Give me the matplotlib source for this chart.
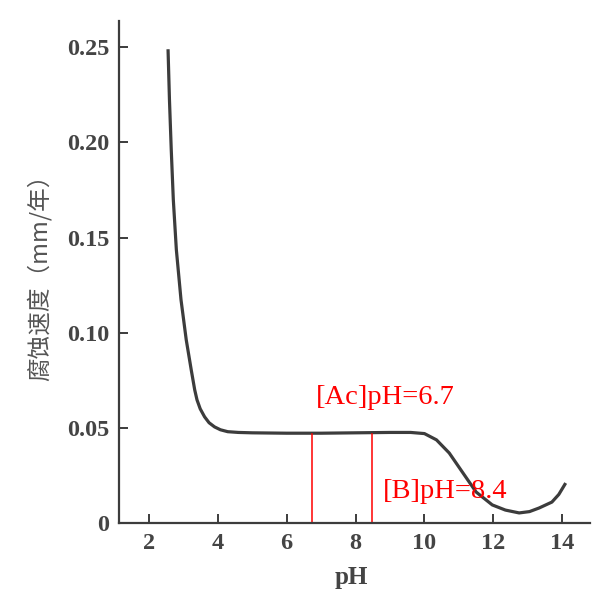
import matplotlib
matplotlib.use('Agg')
import matplotlib.pyplot as plt

# Corrosion rate vs pH
ph = [2.559, 2.600, 2.652, 2.712, 2.800, 2.935, 3.087, 3.232, 3.333, 3.400,
      3.493, 3.62, 3.75, 3.91, 4.08, 4.29, 4.60, 5.0, 6.0, 7.0, 8.0, 9.0,
      9.6, 10.0, 10.35, 10.72, 11.1, 11.5, 11.97, 12.35, 12.75, 13.05,
      13.33, 13.7, 13.9, 14.1]
rate = [0.249, 0.2226, 0.1963, 0.170, 0.1437, 0.1174, 0.0963, 0.0805, 0.070,
        0.0647, 0.060, 0.0558, 0.0527, 0.0505, 0.049, 0.048, 0.0476, 0.0474,
        0.0472, 0.0472, 0.0474, 0.0476, 0.0476, 0.047, 0.0437, 0.0368,
        0.0268, 0.0163, 0.0095, 0.0068, 0.0053, 0.0060, 0.0079, 0.011,
        0.015, 0.021]

# red markers
mark_ph = [6.75, 8.47]
mark_top = 0.047
mark_labels = ['[Ac]pH=6.7', '[B]pH=8.4']
mark_label_pos = [(6.85, 0.066), (8.78, 0.0165)]

xticks = [2, 4, 6, 8, 10, 12, 14]
yticks = [0, 0.05, 0.10, 0.15, 0.20, 0.25]
ytick_labels = ['0', '0.05', '0.10', '0.15', '0.20', '0.25']

ink = '#3c3c3c'

fig = plt.figure(figsize=(6.0, 5.98), dpi=100)
ax = fig.add_axes([0.198, 0.1254, 0.785, 0.84])

ax.plot(ph, rate, color=ink, lw=2.3, solid_capstyle='butt',
        solid_joinstyle='round')

for x in mark_ph:
    ax.plot([x, x], [0, mark_top], color='red', lw=1.1)
for (tx, ty), s in zip(mark_label_pos, mark_labels):
    ax.text(tx, ty, s, color='red', fontsize=20.5, family='Liberation Serif',
            ha='left', va='center')

ax.set_xlim(1.13, 14.8)
ax.set_ylim(0, 0.264)
ax.set_xticks(xticks)
ax.set_yticks(yticks)
ax.set_yticklabels(ytick_labels)

for side in ['top', 'right']:
    ax.spines[side].set_visible(False)
for side in ['left', 'bottom']:
    ax.spines[side].set_color(ink)
    ax.spines[side].set_linewidth(1.6)

ax.tick_params(direction='in', length=6.5, width=1.4, color=ink, pad=7,
               labelsize=17.5, labelcolor='#444444')
for lab in ax.get_xticklabels() + ax.get_yticklabels():
    lab.set_family('Liberation Serif')
    lab.set_fontweight('bold')

ax.set_xlabel('pH', family='Liberation Serif', fontweight='bold',
              fontsize=18, color='#444444')
ax.xaxis.set_label_coords(0.493, -0.085)
ax.set_ylabel('腐蚀速度（mm/年）', family=['Noto Sans CJK SC', 'DejaVu Sans'],
              fontsize=17, color='#555555')
ax.yaxis.set_label_coords(-0.142, 0.5)

fig.savefig('out.png', dpi=100, facecolor='white')
